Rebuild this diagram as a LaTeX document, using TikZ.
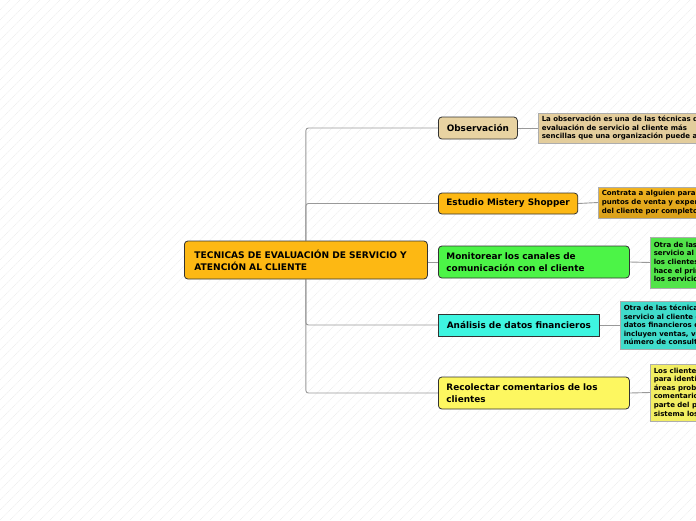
\documentclass[tikz,border=0pt]{standalone}
\usepackage{fontspec}
\setmainfont{DejaVu Sans}
\usetikzlibrary{shadows}
\pgfdeclarelayer{bg}
\pgfdeclarelayer{mid}
\pgfsetlayers{bg,mid,main}
\definecolor{rootc}{HTML}{FDB813}
\definecolor{obsc}{HTML}{E8D3A2}
\definecolor{monc}{HTML}{4CF447}
\definecolor{anac}{HTML}{3EF5E0}
\definecolor{recc}{HTML}{FDF760}
\definecolor{obsn}{HTML}{E3CD9C}
\definecolor{misnt}{HTML}{F2B420}
\definecolor{misnb}{HTML}{D9A01A}
\definecolor{monn}{HTML}{52E44A}
\definecolor{anan}{HTML}{40DCCB}
\definecolor{recn}{HTML}{F2EE62}
\definecolor{linec}{HTML}{999999}
\definecolor{bordc}{HTML}{333333}
\tikzset{
  topic/.style={draw=bordc, line width=0.8pt, rounded corners=3.5pt, font=\bfseries\fontsize{8.9}{12}\selectfont, anchor=west, inner xsep=8pt, inner ysep=0pt},
  notebox/.style={draw=linec!80, line width=0.5pt, anchor=west, align=left, inner xsep=3.5pt, inner ysep=0pt, font=\bfseries\fontsize{7}{8.6}\selectfont, drop shadow={shadow xshift=1.2pt, shadow yshift=-1.2pt, fill=black!25, opacity=1}},
  conn/.style={draw=linec, line width=0.9pt, rounded corners=2.5pt}
}
\begin{document}
\begin{tikzpicture}[x=1pt,y=-1pt]
\useasboundingbox (0,0) rectangle (696,520);
\clip (0,0) rectangle (696,520);
\begin{pgfonlayer}{bg}
\fill[white] (0,0) rectangle (696,520);
\foreach \i in {0,10,...,1220} {
  \draw[black!7, line width=0.4pt, dash pattern=on 1pt off 0.6pt] (\i-520,520) -- (\i,0);
}
\end{pgfonlayer}
% root
\node[topic, fill=rootc, minimum width=243pt, minimum height=38pt, text width=223pt, align=left, inner xsep=10pt, font=\bfseries\fontsize{9.1}{12}\selectfont] (root) at (184,260) {TECNICAS DE EVALUACIÓN DE SERVICIO Y\\ATENCIÓN AL CLIENTE};
% children
\node[topic, fill=obsc, minimum width=79pt, minimum height=22pt, align=center] (obs) at (438,128) {Observación};
\node[topic, fill=rootc, minimum width=139pt, minimum height=21pt, align=center] (mis) at (438,203.5) {Estudio Mistery Shopper};
\node[topic, fill=monc, minimum width=191pt, minimum height=32pt, text width=175pt, align=left] (mon) at (438,262) {Monitorear los canales de\\comunicación con el cliente};
\node[topic, fill=anac, rounded corners=0pt, minimum width=161pt, minimum height=22pt, align=center] (ana) at (438,325) {Análisis de datos financieros};
\node[topic, fill=recc, minimum width=191pt, minimum height=32pt, text width=175pt, align=left] (rec) at (438,393) {Recolectar comentarios de los\\clientes};
% notes
\node[notebox, fill=obsn, minimum height=30pt] (obsnote) at (538,128) {La observación es una de las técnicas de\\evaluación de servicio al cliente más\\sencillas que una organización puede aplicar.};
\node[notebox, top color=misnt, bottom color=misnb, minimum height=31pt] (misnote) at (598,202.5) {Contrata a alguien para visitar tus\\puntos de venta y experimentar el servicio\\del cliente por completo.};
\node[notebox, fill=monn, minimum height=51pt] (monnote) at (650,262.5) {Otra de las técnicas de evaluación de\\servicio al cliente es monitorear cómo\\los clientes se comunican y quién\\hace el primer contacto con\\los servicios de la empresa.};
\node[notebox, fill=anan, minimum height=48pt] (ananote) at (620,325) {Otra de las técnicas de evaluación de\\servicio al cliente es analizar los\\datos financieros de la empresa, que\\incluyen ventas, ventas perdidas y\\número de consultas.};
\node[notebox, fill=recn, minimum height=57pt] (recnote) at (650,392.5) {Los clientes son una fuente útil\\para identificar y abordar\\áreas problemáticas. Recolectar\\comentarios de los clientes es\\parte del proceso; con este\\sistema los clientes opinan.};
% connectors
\begin{pgfonlayer}{mid}
\draw[conn] (root.north) |- (obs.west);
\draw[conn] (root.north) |- (mis.west);
\draw[conn] (root.south) |- (ana.west);
\draw[conn] (root.south) |- (rec.west);
\draw[conn] (root.east |- mon.west) -- (mon.west);
\draw[conn] (obs.east) -- (obsnote.west);
\draw[conn] (mis.east) -- (misnote.west);
\draw[conn] (mon.east) -- (monnote.west);
\draw[conn] (ana.east) -- (ananote.west);
\draw[conn] (rec.east) -- (recnote.west);
\end{pgfonlayer}
\end{tikzpicture}
\end{document}
